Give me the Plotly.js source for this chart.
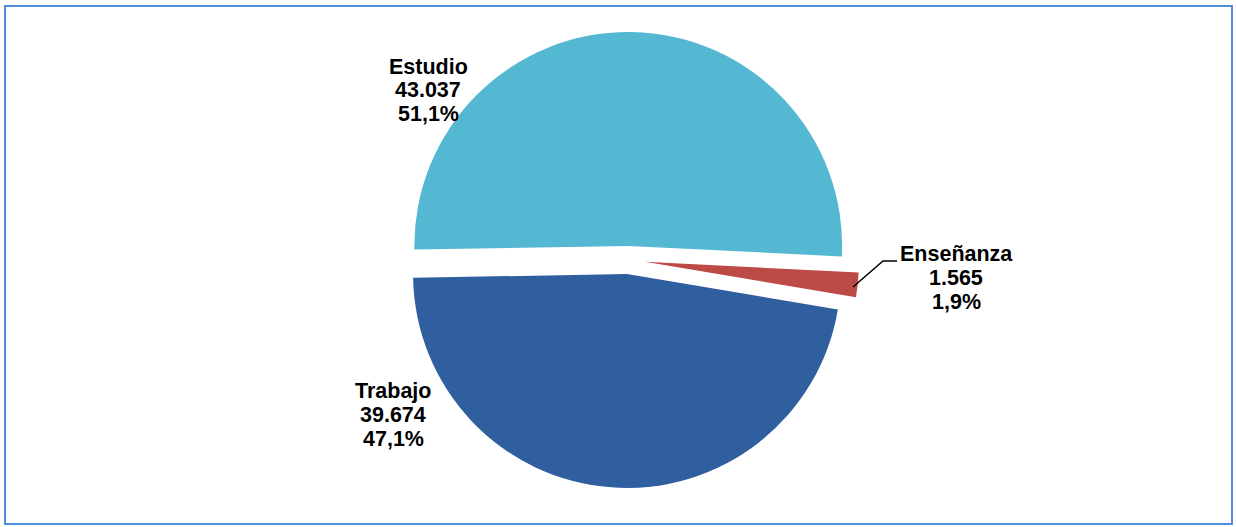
<!DOCTYPE html>
<html>
<head>
<meta charset="utf-8">
<script src="https://cdn.plot.ly/plotly-3.0.1.min.js"></script>
<style>html,body{margin:0;padding:0;background:#fff;}#chart{width:1236px;height:527px;}</style>
</head>
<body>
<div id="chart"></div>
<script>
// Data (drawing order: clockwise from 9 o'clock)
const categories = ['Estudio', 'Enseñanza', 'Trabajo'];
const values = [43037, 1565, 39674];

// Styling
const colors = ['#54B8D3', '#BC4A47', '#2F5F9E'];
const pulls = [0.066, 0.08, 0.066];

const W = 1236, H = 527;
const px = x => x / W;
const py = y => 1 - y / H;

function fmtThousands(v) {
  return String(v).replace(/\B(?=(\d{3})+(?!\d))/g, '.');
}
const total = values.reduce((a, b) => a + b, 0);
const pctText = values.map(v => (v / total * 100).toFixed(1).replace('.', ',') + '%');

// label placement (pixel centres of the three text lines for each category)
const labelPlace = {
  'Estudio':   {x: 428, y: [67, 90, 114]},
  'Enseñanza': {x: 956, y: [254, 278, 302]},
  'Trabajo':   {x: 393, y: [391, 415, 439]}
};

const annotations = [];
categories.forEach((c, i) => {
  const lines = [c, fmtThousands(values[i]), pctText[i]];
  const p = labelPlace[c];
  lines.forEach((t, k) => {
    annotations.push({
      xref: 'paper', yref: 'paper', x: px(p.x), y: py(p.y[k]),
      xanchor: 'center', yanchor: 'middle', showarrow: false,
      text: '<b>' + t + '</b>',
      font: {family: 'Liberation Sans, Arial, sans-serif', size: 21.5, color: '#000'}
    });
  });
});

const trace = {
  type: 'pie',
  labels: categories,
  values: values,
  sort: false,
  direction: 'clockwise',
  rotation: -91,
  pull: pulls,
  textinfo: 'none',
  hoverinfo: 'label+value+percent',
  marker: {colors: colors, line: {width: 0}},
  domain: {x: [px(397), px(859)], y: [py(491), py(29)]},
  showlegend: false
};

const layout = {
  width: W, height: H,
  margin: {l: 0, r: 0, t: 0, b: 0},
  paper_bgcolor: '#fff',
  showlegend: false,
  annotations: annotations,
  shapes: [
    {type: 'rect', xref: 'paper', yref: 'paper', x0: px(5), x1: px(1232), y0: py(524), y1: py(6),
     line: {color: '#4F8EDB', width: 2}, fillcolor: 'rgba(0,0,0,0)'},
    {type: 'path', xref: 'paper', yref: 'paper',
     path: 'M ' + px(853) + ' ' + py(287) + ' L ' + px(883) + ' ' + py(261) + ' L ' + px(897) + ' ' + py(261),
     line: {color: '#000', width: 1.5}}
  ]
};

Plotly.newPlot('chart', [trace], layout, {displayModeBar: false, staticPlot: true});
</script>
</body>
</html>
